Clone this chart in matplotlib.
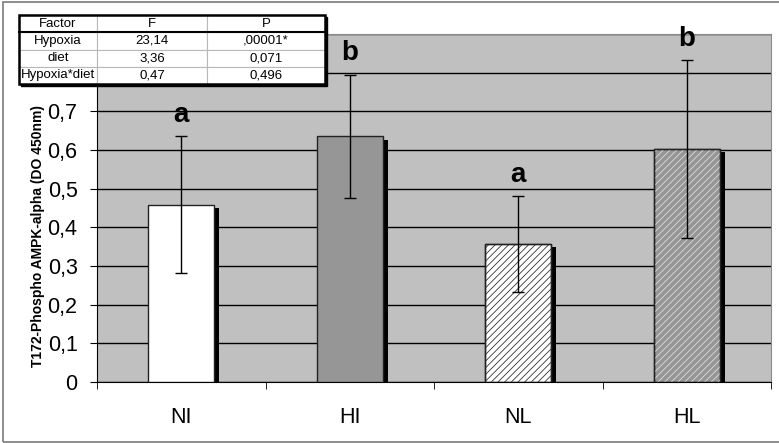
import matplotlib
matplotlib.use("Agg")
import matplotlib.pyplot as plt
from matplotlib.patches import Rectangle
import numpy as np

plt.rcParams['font.family'] = ['Liberation Sans', 'DejaVu Sans']
plt.rcParams['hatch.linewidth'] = 0.6

# data
groups = ['NI', 'HI', 'NL', 'HL']
means = [0.458, 0.635, 0.357, 0.602]
errs = [0.177, 0.160, 0.123, 0.230]
letters = ['a', 'b', 'a', 'b']
yticks = [0, 0.1, 0.2, 0.3, 0.4, 0.5, 0.6, 0.7, 0.8, 0.9]
ytick_labels = ['0', '0,1', '0,2', '0,3', '0,4', '0,5', '0,6', '0,7', '0,8', '0,9']
ylabel = 'T172-Phospho AMPK-alpha (DO 450nm)'

table_cols = ['Factor', 'F', 'P']
table_rows = [['Hypoxia', '23,14', ',00001*'],
              ['diet', '3,36', '0,071'],
              ['Hypoxia*diet', '0,47', '0,496']]

faces = ['white', '#969696', 'white', '#969696']
hatches = [None, None, '/////', '/////']
hatch_cols = [None, None, '#333333', '#dcdcdc']

W, H = 779, 443
fig = plt.figure(figsize=(W/100, H/100), dpi=100)

# outer chart border
fig.patches.append(Rectangle((3/W, 1/H), 1.2, (H-3)/H, transform=fig.transFigure,
                             fill=False, ec='#7a7a7a', lw=1.2))

ax = fig.add_axes([97/W, 61/H, 674/W, 348/H])
ax.set_facecolor('#c0c0c0')
x = np.arange(len(groups))
bw = 0.39

# shadows
ax.bar(x + 0.032, means, bw, bottom=-0.008, color='black', zorder=2)
# bars
ax.bar(x, means, bw, color=faces, edgecolor='#222222', lw=1, zorder=3)
for i in range(len(groups)):
    if hatches[i]:
        ax.bar(x[i], means[i], bw, color='none', edgecolor=hatch_cols[i],
               hatch=hatches[i], lw=0, zorder=4)
        ax.bar(x[i], means[i], bw, color='none', edgecolor='#222222', lw=1, zorder=4)

ax.errorbar(x, means, yerr=errs, fmt='none', ecolor='black', elinewidth=1,
            capsize=4, capthick=1, zorder=5)

for i in range(len(groups)):
    ax.annotate(letters[i], (x[i], means[i] + errs[i]), xytext=(0, 6),
                textcoords='offset points', ha='center', va='bottom',
                fontsize=20, fontweight='bold')

ax.set_xlim(-0.5, len(groups) - 0.5)
ax.set_ylim(0, 0.9)
ax.set_yticks(yticks)
ax.set_yticklabels(ytick_labels)
ax.yaxis.grid(True, color='black', lw=1)
ax.set_axisbelow(True)

ax.set_xticks(x)
ax.set_xticklabels(groups)
ax.set_xticks(np.arange(len(groups) + 1) - 0.5, minor=True)
ax.tick_params(axis='x', which='major', length=0, pad=18, labelsize=15.5)
ax.tick_params(axis='x', which='minor', length=5, direction='out')
ax.tick_params(axis='y', length=5, direction='out', pad=9, labelsize=15.5)

for s in ['top', 'right']:
    ax.spines[s].set_color('#8a8a8a')
for s in ['left', 'bottom']:
    ax.spines[s].set_color('black')

fig.text(38/W, 1 - 236/H, ylabel, rotation=90, ha='center', va='center',
         fontsize=10, fontweight='bold')

# stats table
tx, ty, tw, th = 19/W, 1 - 84/H, 306/W, 69/H
fig.patches.append(Rectangle((tx + 2/W, ty - 2/H), tw, th, transform=fig.transFigure,
                             color='black', zorder=9))
tax = fig.add_axes([tx, ty, tw, th], zorder=10)
tax.axis('off')
tbl = tax.table(cellText=table_rows, colLabels=table_cols, cellLoc='center',
                bbox=[0, 0, 1, 1], colWidths=[78, 110, 118])
tbl.auto_set_font_size(False)
for (r, c), cell in tbl.get_celld().items():
    cell.set_fontsize(9.5)
    cell.set_edgecolor('#b8b8b8')
    cell.set_linewidth(0.8)
    cell.set_facecolor('white')
tax.add_patch(Rectangle((0, 0), 1, 1, transform=tax.transAxes, fill=False,
                        ec='black', lw=1.8, zorder=20, clip_on=False))
tax.plot([0, 1], [3/4, 3/4], color='black', lw=1.5, transform=tax.transAxes,
         zorder=20, clip_on=False)

fig.savefig('out.png', dpi=100)
